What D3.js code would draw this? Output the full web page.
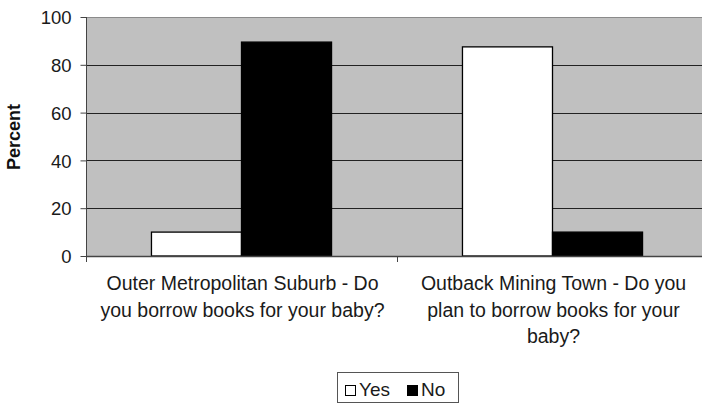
<!DOCTYPE html>
<html>
<head>
<meta charset="utf-8">
<script src="https://cdn.jsdelivr.net/npm/d3@7/dist/d3.min.js"></script>
<style>
  html, body { margin: 0; padding: 0; background: #fff; }
  svg { display: block; font-family: "Liberation Sans", Arial, sans-serif; }
</style>
</head>
<body>
<svg id="chart" width="702" height="410"></svg>
<script>
const categories = [
  "Outer Metropolitan Suburb - Do you borrow books for your baby?",
  "Outback Mining Town - Do you plan to borrow books for your baby?"
];
const seriesNames = ["Yes", "No"];
const yesValues = [10, 87.5];
const noValues = [89.5, 10];
const yTicks = [0, 20, 40, 60, 80, 100];
const seriesColors = ["#ffffff", "#000000"];

const svg = d3.select("#chart");
const plot = { left: 86, top: 17, right: 708, bottom: 256 };

const x0 = d3.scaleBand()
  .domain(categories)
  .range([plot.left, plot.right])
  .paddingInner(0.421)
  .paddingOuter(0.2105);
const x1 = d3.scaleBand()
  .domain(seriesNames)
  .range([0, x0.bandwidth()]);
const y = d3.scaleLinear().domain([0, 100]).range([plot.bottom, plot.top]);
const color = d3.scaleOrdinal().domain(seriesNames).range(seriesColors);

// plot background
svg.append("rect")
  .attr("x", plot.left).attr("y", plot.top)
  .attr("width", plot.right - plot.left).attr("height", plot.bottom - plot.top)
  .attr("fill", "#c0c0c0");

// gridlines
svg.append("g")
  .selectAll("line")
  .data(yTicks.filter(d => d > 0))
  .join("line")
  .attr("x1", plot.left).attr("x2", plot.right)
  .attr("y1", d => Math.round(y(d)) + 0.5).attr("y2", d => Math.round(y(d)) + 0.5)
  .attr("stroke", d => d === 100 ? "#8a8a8a" : "#222")
  .attr("stroke-width", 1.2);

// bars
const data = categories.map((c, i) => ({ cat: c, values: [
  { key: "Yes", value: yesValues[i] },
  { key: "No", value: noValues[i] }
]}));

svg.append("g")
  .selectAll("g")
  .data(data)
  .join("g")
  .attr("transform", d => `translate(${x0(d.cat)},0)`)
  .selectAll("rect")
  .data(d => d.values)
  .join("rect")
  .attr("x", d => x1(d.key))
  .attr("y", d => y(d.value))
  .attr("width", x1.bandwidth())
  .attr("height", d => y(0) - y(d.value))
  .attr("fill", d => color(d.key))
  .attr("stroke", "#000")
  .attr("stroke-width", 1.3);

// y axis
const yAxis = d3.axisLeft(y).tickValues(yTicks).tickSize(6).tickPadding(9).tickFormat(d3.format("d"));
const gy = svg.append("g")
  .attr("transform", `translate(${plot.left + 0.5},0)`)
  .call(yAxis);
gy.select(".domain").attr("stroke", "#444").attr("d", `M0,${plot.top}V${plot.bottom}`);
gy.selectAll(".tick line").attr("stroke", "#444");
gy.selectAll(".tick text")
  .attr("font-size", 18.5)
  .attr("fill", "#1a1a1a")
  .attr("font-family", "'Liberation Sans', Arial, sans-serif")
  .attr("dy", "0.36em");

// x axis baseline + category ticks
const gx = svg.append("g");
gx.append("line")
  .attr("x1", plot.left).attr("x2", plot.right)
  .attr("y1", plot.bottom + 0.5).attr("y2", plot.bottom + 0.5)
  .attr("stroke", "#444").attr("stroke-width", 1.5);
const step = x0.step();
const boundaries = d3.range(categories.length + 1).map(i => plot.left + i * step);
gx.selectAll("line.tk")
  .data(boundaries)
  .join("line")
  .attr("class", "tk")
  .attr("x1", d => Math.round(d) + 0.5).attr("x2", d => Math.round(d) + 0.5)
  .attr("y1", plot.bottom).attr("y2", plot.bottom + 6)
  .attr("stroke", "#444");

// category labels with wrapping
function wrap(textSel, width) {
  textSel.each(function() {
    const text = d3.select(this);
    const words = text.text().split(/\s+/);
    const xPos = text.attr("x");
    text.text(null);
    let line = [];
    let tspan = text.append("tspan").attr("x", xPos).attr("dy", 0);
    for (const w of words) {
      line.push(w);
      tspan.text(line.join(" "));
      if (tspan.node().getComputedTextLength() > width && line.length > 1) {
        line.pop();
        tspan.text(line.join(" "));
        line = [w];
        tspan = text.append("tspan").attr("x", xPos).attr("dy", "1.36em").text(w);
      }
    }
  });
}

svg.append("g")
  .selectAll("text")
  .data(categories)
  .join("text")
  .attr("x", d => x0(d) + x0.bandwidth() / 2 + 1)
  .attr("y", 290)
  .attr("text-anchor", "middle")
  .attr("font-size", 19.5)
  .attr("fill", "#1a1a1a")
  .text(d => d)
  .call(wrap, 300);

// y axis title
svg.append("text")
  .attr("transform", "translate(20,137) rotate(-90)")
  .attr("text-anchor", "middle")
  .attr("font-size", 18)
  .attr("font-weight", "bold")
  .attr("fill", "#111")
  .text("Percent");

// legend
const legend = svg.append("g");
legend.append("rect")
  .attr("x", 337.5).attr("y", 372.5)
  .attr("width", 121).attr("height", 30)
  .attr("fill", "#fff").attr("stroke", "#555").attr("stroke-width", 1);
const legendX = [345, 407];
const items = legend.selectAll("g.item")
  .data(seriesNames)
  .join("g")
  .attr("class", "item")
  .attr("transform", (d, i) => `translate(${legendX[i]},0)`);
items.append("rect")
  .attr("x", 0.5).attr("y", 385.5)
  .attr("width", 10).attr("height", 10)
  .attr("fill", d => color(d))
  .attr("stroke", "#000").attr("stroke-width", 1);
items.append("text")
  .attr("x", 14).attr("y", 395.5)
  .attr("font-size", 19)
  .attr("fill", "#1a1a1a")
  .text(d => d);
</script>
</body>
</html>
